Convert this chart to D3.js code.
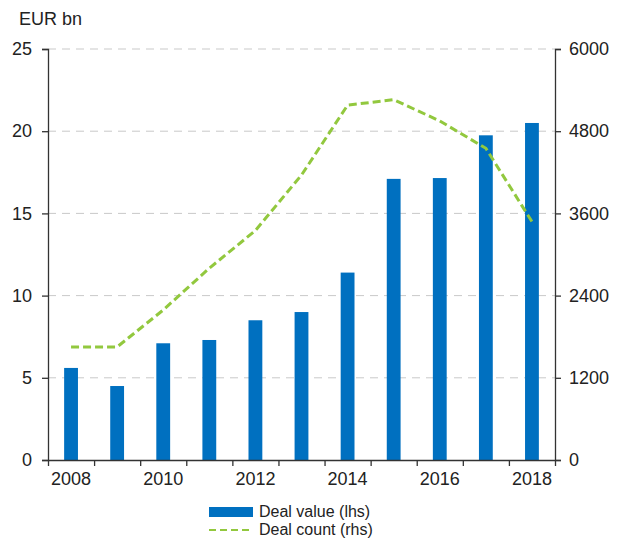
<!DOCTYPE html>
<html>
<head>
<meta charset="utf-8">
<script src="https://cdn.jsdelivr.net/npm/d3@7"></script>
<style>
  html, body { margin: 0; padding: 0; background: #fff; }
  svg text { font-family: "Liberation Sans", Arial, sans-serif; fill: #222; }
</style>
</head>
<body>
<svg id="chart" width="620" height="539"></svg>
<script>
const years = [2008, 2009, 2010, 2011, 2012, 2013, 2014, 2015, 2016, 2017, 2018];
const dealValue = [5.6, 4.5, 7.1, 7.3, 8.5, 9.0, 11.4, 17.1, 17.15, 19.75, 20.5];
const dealCount = [1650, 1650, 2190, 2800, 3350, 4160, 5180, 5260, 4950, 4550, 3480];
const leftTicks = [0, 5, 10, 15, 20, 25];
const rightTicks = [0, 1200, 2400, 3600, 4800, 6000];
const xLabelYears = [2008, 2010, 2012, 2014, 2016, 2018];
const legendLabels = ["Deal value (lhs)", "Deal count (rhs)"];
const unitLabel = "EUR bn";

const svg = d3.select("#chart");
const L = 48, R = 555, T = 49, B = 460;
const barColor = "#0070C0", lineColor = "#92C83E";

const x = d3.scaleBand().domain(years).range([L, R]).paddingInner(0.7).paddingOuter(0.35);
const xb = d3.scaleLinear().domain([0, years.length]).range([L, R]);
const yL = d3.scaleLinear().domain([0, 25]).range([B, T]);
const yR = d3.scaleLinear().domain([0, 6000]).range([B, T]);

// gridlines
svg.append("g").selectAll("line").data(leftTicks.filter(d => d > 0)).join("line")
  .attr("x1", L).attr("x2", R)
  .attr("y1", d => yL(d)).attr("y2", d => yL(d))
  .attr("stroke", "#c9c9c9").attr("stroke-width", 1).attr("stroke-dasharray", "8,6");

// bars
svg.append("g").selectAll("rect").data(years).join("rect")
  .attr("x", d => x(d)).attr("width", x.bandwidth())
  .attr("y", (d, i) => yL(dealValue[i]))
  .attr("height", (d, i) => B - yL(dealValue[i]))
  .attr("fill", barColor);

// line
const line = d3.line().x((d, i) => x(years[i]) + x.bandwidth() / 2).y(d => yR(d));
svg.append("path").datum(dealCount).attr("d", line)
  .attr("fill", "none").attr("stroke", lineColor).attr("stroke-width", 3)
  .attr("stroke-dasharray", "8,4");

const fs = "18px";

// left axis
const gl = svg.append("g").attr("transform", `translate(${L},0)`)
  .call(d3.axisLeft(yL).tickValues(leftTicks).tickSize(6).tickPadding(10));
// right axis
const gr = svg.append("g").attr("transform", `translate(${R},0)`)
  .call(d3.axisRight(yR).tickValues(rightTicks).tickFormat(d3.format("d")).tickSize(6).tickPadding(8));
// bottom boundary ticks
const gb = svg.append("g").attr("transform", `translate(0,${B})`)
  .call(d3.axisBottom(xb).tickValues(d3.range(0, years.length + 1)).tickFormat("").tickSize(6).tickSizeOuter(0));
// bottom labels
const gbl = svg.append("g").attr("transform", `translate(0,${B})`)
  .call(d3.axisBottom(x).tickValues(xLabelYears).tickSize(0).tickPadding(12));
gbl.select(".domain").remove();

[gl, gr, gb, gbl].forEach(g => {
  g.selectAll(".domain").attr("stroke", "#333").attr("stroke-width", 1.3);
  g.selectAll(".tick line").attr("stroke", "#333").attr("stroke-width", 1.3);
  g.selectAll("text").style("font-size", fs).style("font-family", '"Liberation Sans", Arial, sans-serif').attr("fill", "#222");
});

// unit label
svg.append("text").attr("x", 19).attr("y", 25).text(unitLabel).style("font-size", fs);

// legend
const lg = svg.append("g");
lg.append("rect").attr("x", 209).attr("y", 507).attr("width", 44).attr("height", 10).attr("fill", barColor);
lg.append("line").attr("x1", 209).attr("x2", 253).attr("y1", 530).attr("y2", 530)
  .attr("stroke", lineColor).attr("stroke-width", 2).attr("stroke-dasharray", "7,4");
lg.selectAll("text").data(legendLabels).join("text")
  .attr("x", 259).attr("y", (d, i) => 517 + i * 18)
  .text(d => d).style("font-size", "16px");
</script>
</body>
</html>
